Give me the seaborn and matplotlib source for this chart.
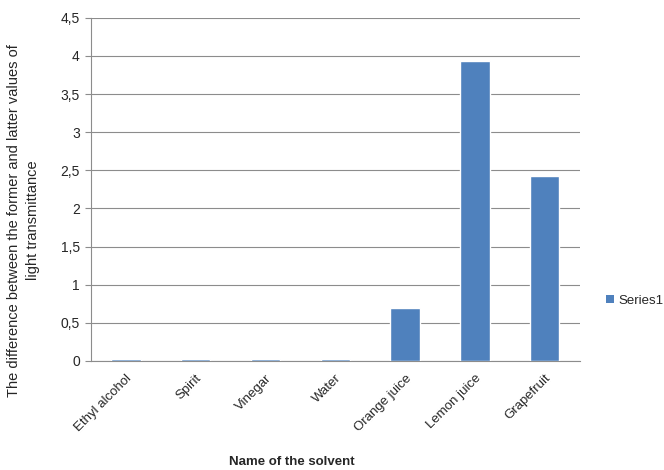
import matplotlib
matplotlib.use("Agg")
import matplotlib.pyplot as plt
import matplotlib.ticker as mticker
from matplotlib.patches import Patch
import seaborn as sns
import pandas as pd

solvents = ["Ethyl alcohol", "Spirit", "Vinegar", "Water", "Orange juice", "Lemon juice", "Grapefruit"]
values = [0.025, 0.025, 0.025, 0.025, 0.69, 3.93, 2.43]
yticks = [0, 0.5, 1, 1.5, 2, 2.5, 3, 3.5, 4, 4.5]

sns.set_style("white")
plt.rcParams['font.family'] = ['Liberation Sans', 'DejaVu Sans']

df = pd.DataFrame({"solvent": solvents, "value": values})

fig = plt.figure(figsize=(6.64, 4.70), dpi=100)
ax = fig.add_axes([0.137, 0.232, 0.736, 0.730])

sns.barplot(data=df, x="solvent", y="value", color="#4F81BD", width=0.42,
            saturation=1, ax=ax, zorder=3)

ax.set_ylim(0, 4.5)
ax.set_xlim(-0.5, len(solvents) - 0.5)
ax.set_yticks(yticks)
ax.yaxis.set_major_formatter(mticker.FuncFormatter(
    lambda v, p: ("%g" % v).replace(".", ",")))
ax.yaxis.grid(True, color="#8c8c8c", linewidth=0.8, zorder=0)
ax.set_axisbelow(True)

for s in ["top", "right"]:
    ax.spines[s].set_visible(False)
for s in ["left", "bottom"]:
    ax.spines[s].set_color("#8c8c8c")
    ax.spines[s].set_linewidth(0.8)

ax.tick_params(axis="y", direction="out", length=4, color="#8c8c8c",
               labelsize=10, left=True, pad=4)
ax.set_xticks(range(len(solvents)))
ax.set_xticklabels(solvents, rotation=45, ha="right", rotation_mode="anchor", fontsize=9.5)
ax.tick_params(axis="x", length=0, pad=8)
ax.set_xticks([i - 0.5 for i in range(len(solvents) + 1)], minor=True)
ax.tick_params(axis="x", which="minor", direction="out", length=4, color="#8c8c8c")

ax.set_ylabel("The difference between the former and latter values of\nlight transmittance",
              fontsize=10.5, linespacing=1.45)
ax.yaxis.set_label_coords(-0.105, 0.41)
ax.set_xlabel("Name of the solvent", fontsize=9.5, fontweight="bold")
ax.xaxis.set_label_coords(0.41, -0.295)
ax.xaxis.label.set_va("center")

handle = Patch(facecolor="#4F81BD", edgecolor="none")
fig.legend([handle], ["Series1"], loc="center left", bbox_to_anchor=(0.895, 0.36),
           frameon=False, fontsize=9.5, handlelength=0.6, handleheight=0.6,
           handletextpad=0.3)

fig.savefig("out.png", dpi=100)
